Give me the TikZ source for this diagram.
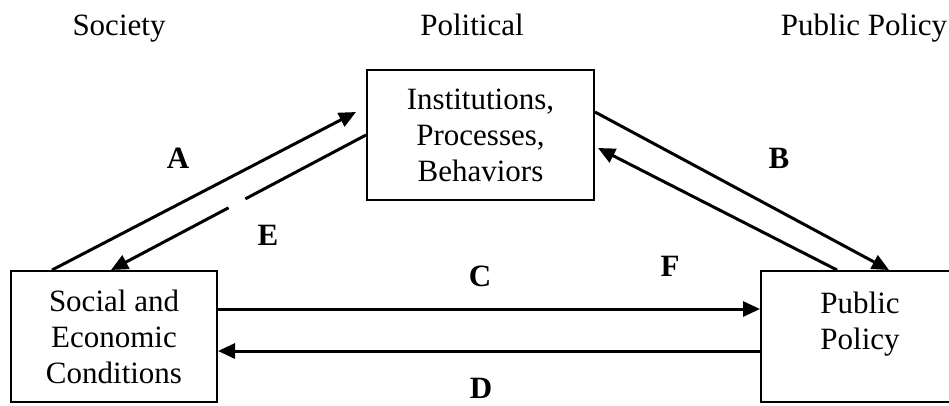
\documentclass[tikz,border=0pt]{standalone}
\usepackage{fontspec}
\setmainfont{Liberation Serif}
\usetikzlibrary{arrows.meta,calc}
\begin{document}
\begin{tikzpicture}[x=1pt,y=-1pt,
  txt/.style={font=\fontsize{31}{36}\selectfont,align=center,inner sep=0pt},
  head/.style={txt,anchor=base},
  box/.style={txt,draw,line width=2pt,inner sep=0pt},
  lbl/.style={font=\fontsize{31}{36}\selectfont\bfseries,inner sep=0pt},
  link/.style={line width=3pt,-{Triangle[length=17pt,width=15pt]}},
  plain/.style={line width=3pt}]
\useasboundingbox[fill=white] (0,0) rectangle (949,405);

% column headings, sharing one baseline
\node[head] (hsoc) at (119,35) {Society};
\node[head] (hpol) at (472,35) {Political};
\node[head] (hpub) at (864,35) {Public Policy};

% boxes
\node[box,minimum width=227pt,minimum height=130pt] (inst) at (480.5,135)
  {Institutions,\\Processes,\\Behaviors};
\node[box,minimum width=206pt,minimum height=131pt] (soc) at (114,336.5)
  {Social and\\Economic\\Conditions};
\node[box,minimum width=191pt,minimum height=131pt] (pp) at (856.5,336.5) {};
\node[txt] (pptext) at (860,324) {Public\\Policy};

% links between the three spheres
\draw[link] ($(soc.north west)+(42,0)$) -- ($(inst.west)+(-10,-23)$);
\draw[plain] (inst.west) -- ($(inst.west)!0.473!($(soc.north west)+(101,0)$)$);
\draw[link] ($(inst.west)!0.539!($(soc.north west)+(101,0)$)$) -- ($(soc.north west)+(101,0)$);
\draw[link] ($(inst.east)+(0,-23)$) -- ($(pp.north west)+(129,0)$);
\draw[link] ($(pp.north west)+(77,0)$) -- ($(inst.east)+(3,13)$);
\draw[link] ($(soc.east)+(0,-27.5)$) -- ($(pp.west)+(0,-27.5)$);
\draw[link] ($(pp.west)+(0,14.5)$) -- ($(soc.east)+(0,14.5)$);

% link labels
\node[lbl] (la) at (178,158) {A};
\node[lbl] (lb) at (779,158) {B};
\node[lbl] (lc) at (480,276) {C};
\node[lbl] (ld) at (481,388) {D};
\node[lbl] (le) at (268,235) {E};
\node[lbl] (lf) at (670,266) {F};
\end{tikzpicture}
\end{document}
